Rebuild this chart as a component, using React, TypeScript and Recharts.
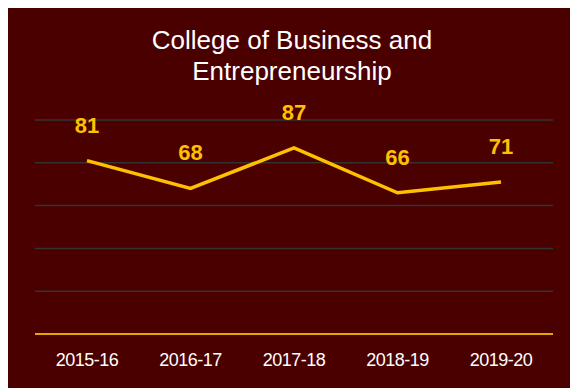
import React from 'react';
import {
  LineChart,
  Line,
  XAxis,
  YAxis,
  CartesianGrid,
  LabelList,
} from 'recharts';

// values
const years = ['2015-16', '2016-17', '2017-18', '2018-19', '2019-20'];
const scores = [81, 68, 87, 66, 71];
const yTicks = [0, 20, 40, 60, 80, 100];
const titleLines = ['College of Business and', 'Entrepreneurship'];

const data = years.map((year, i) => ({ year, score: scores[i] }));

const BG = '#4b0000';
const GOLD = '#ffc000';
const FONT = '"Liberation Sans", Arial, sans-serif';

export default function App() {
  return (
    <div
      style={{
        position: 'relative',
        width: 572,
        height: 383,
        marginLeft: -2,
        marginTop: -3,
        background: BG,
        fontFamily: FONT,
      }}
    >
      <div
        style={{
          position: 'absolute',
          left: 0,
          top: 20,
          width: 572,
          textAlign: 'center',
          color: '#ffffff',
          fontSize: 26,
          lineHeight: '31px',
        }}
      >
        {titleLines.map((t) => (
          <div key={t}>{t}</div>
        ))}
      </div>
      <LineChart
        width={572}
        height={383}
        data={data}
        margin={{ top: 115, right: 25, bottom: 24, left: 29 }}
      >
        <CartesianGrid vertical={false} stroke="#333333" strokeWidth={1.5} />
        <XAxis
          dataKey="year"
          padding={{ left: 52, right: 52 }}
          axisLine={{ stroke: '#e6a800', strokeWidth: 2 }}
          tickLine={false}
          tickSize={0}
          tickMargin={19}
          height={30}
          tick={{ fill: '#ffffff', fontSize: 18, fontFamily: FONT, letterSpacing: -0.5 }}
        />
        <YAxis hide domain={[0, 100]} ticks={yTicks} />
        <Line
          type="linear"
          dataKey="score"
          stroke={GOLD}
          strokeWidth={3.5}
          dot={false}
          isAnimationActive={false}
        >
          <LabelList
            dataKey="score"
            position="top"
            offset={28}
            fill={GOLD}
            fontSize={22}
            fontWeight="bold"
            fontFamily={FONT}
          />
        </Line>
      </LineChart>
    </div>
  );
}
